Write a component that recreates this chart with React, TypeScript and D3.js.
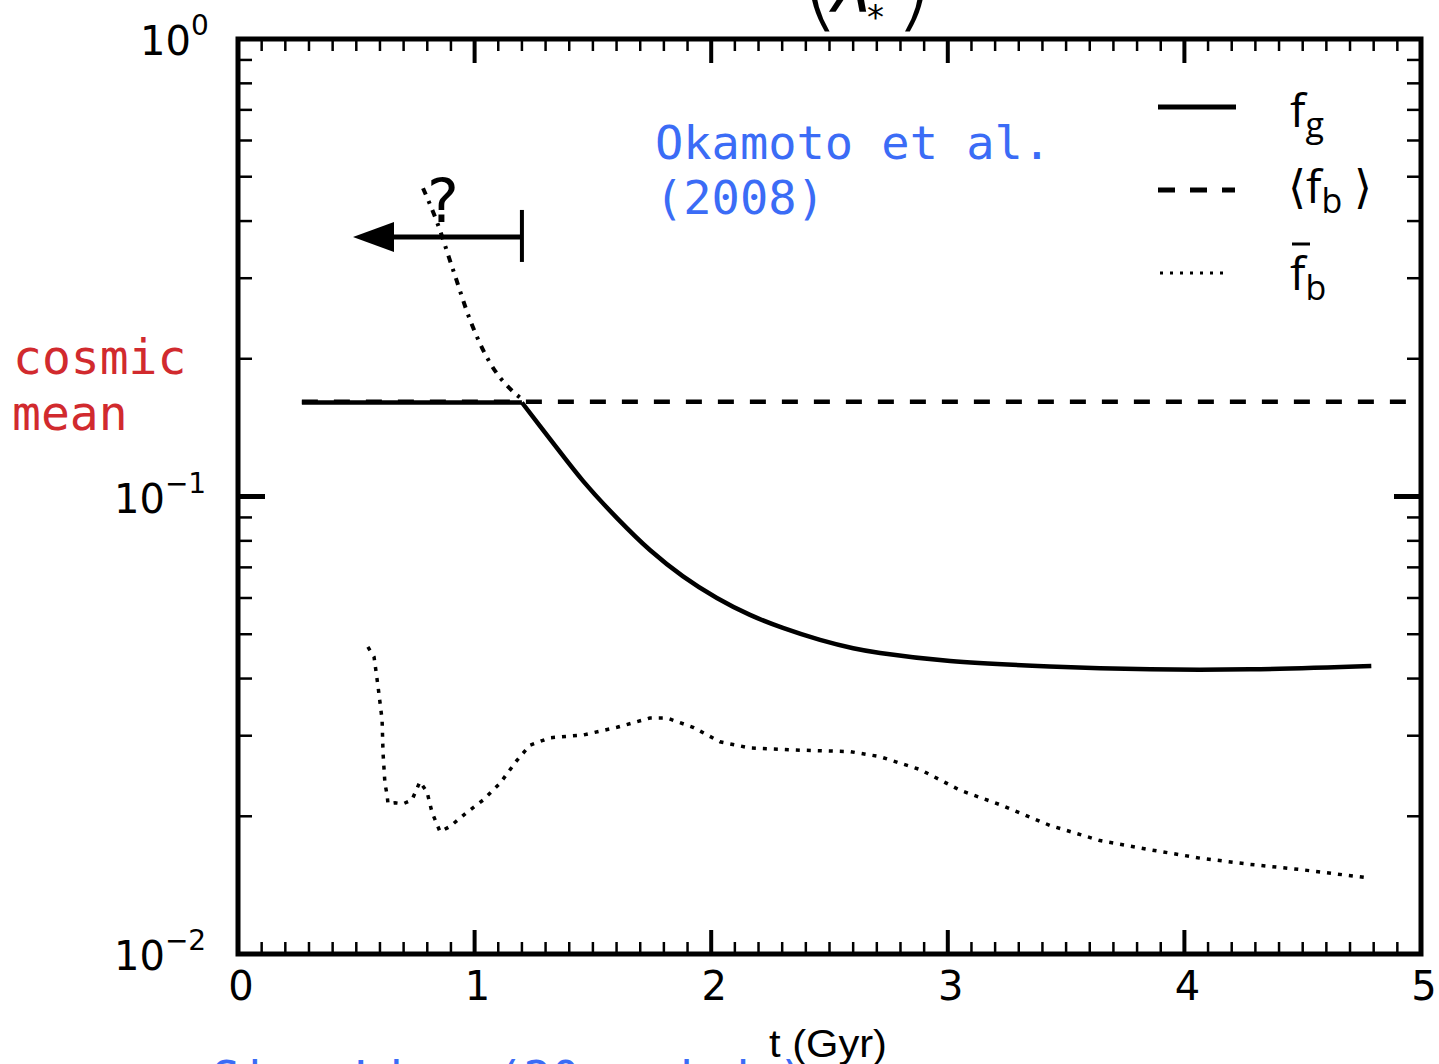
import React from "react";
import * as d3 from "d3";

// f_g : gas fraction (solid)
const fgFlatT = [0.27, 1.2];
const fgFlatV = [0.1605, 0.1605];
const fgT = [1.2, 1.319, 1.458, 1.602, 1.741, 1.881, 2.024, 2.164, 2.303, 2.46, 2.6, 2.714, 3.01, 3.43, 3.855, 4.277, 4.79];
const fgV = [0.1605, 0.1335, 0.1082, 0.0897, 0.0764, 0.0669, 0.06, 0.0551, 0.0516, 0.0486, 0.0466, 0.0455, 0.0437, 0.0425, 0.0419, 0.0419, 0.0426];

// <f_b> : cosmic mean (dashed)
const meanT = [0.27, 5];
const meanV = [0.1612, 0.1612];

// f_b bar, early branch (dotted, with "?")
const earlyT = [0.782, 0.841, 0.909, 0.981, 1.065, 1.155, 1.205];
const earlyV = [0.472, 0.398, 0.313, 0.243, 0.196, 0.171, 0.1627];

// f_b bar, Okamoto et al. (dotted)
const lowT = [0.549, 0.575, 0.592, 0.609, 0.613, 0.621, 0.63, 0.634, 0.664, 0.698, 0.735, 0.769, 0.799, 0.82, 0.854, 0.896, 0.968, 1.036, 1.107, 1.179, 1.234, 1.319, 1.458, 1.602, 1.741, 1.813, 1.923, 2.037, 2.164, 2.375, 2.587, 2.713, 2.883, 3.052, 3.221, 3.432, 3.643, 3.855, 4.066, 4.277, 4.489, 4.763];
const lowV = [0.0469, 0.0446, 0.0384, 0.0325, 0.0275, 0.0236, 0.0223, 0.0213, 0.0214, 0.0213, 0.0217, 0.0238, 0.0226, 0.0204, 0.0185, 0.019, 0.0204, 0.0217, 0.0236, 0.0265, 0.0286, 0.0297, 0.0301, 0.0313, 0.0328, 0.0328, 0.0313, 0.0291, 0.0282, 0.0279, 0.0277, 0.027, 0.0253, 0.0228, 0.0212, 0.0191, 0.0177, 0.0169, 0.0162, 0.0157, 0.0153, 0.0147];

// arrow annotation (data units)
const arrowT = [0.486, 1.2];
const arrowV = 0.369;
const arrowBarV = [0.423, 0.3256];

const xTickLabels = ["0", "1", "2", "3", "4", "5"];
const yMajor = [1, 0.1, 0.01];
const yExp = ["0", "\u22121", "\u22122"];

const W = 1439;
const H = 1064;
const L = 238, R = 1421, T = 39, B = 954;

const blue = "#3b6cf6";
const red = "#d12a2e";
const mono = "'DejaVu Sans Mono', monospace";
const sans = "'DejaVu Sans', sans-serif";

export default function App() {
  const x = d3.scaleLinear().domain([0, 5]).range([L, R]);
  const y = d3.scaleLog().domain([0.01, 1]).range([B, T]);

  const pts = (ts: number[], vs: number[]) => ts.map((t, i) => [t, vs[i]] as [number, number]);
  const lin = d3.line<[number, number]>().x((d) => x(d[0])).y((d) => y(d[1]));
  const smooth = d3.line<[number, number]>().x((d) => x(d[0])).y((d) => y(d[1])).curve(d3.curveCatmullRom.alpha(0.5));
  const mono_ = d3.line<[number, number]>().x((d) => x(d[0])).y((d) => y(d[1])).curve(d3.curveMonotoneX);

  const xMinor = d3.range(0, 50).map((i) => i / 10).filter((v) => Math.abs(v - Math.round(v)) > 1e-6);
  const xMaj = d3.range(1, 5);
  const yMinor: number[] = [];
  [0.01, 0.1].forEach((d) => d3.range(2, 10).forEach((k) => yMinor.push(d * k)));

  const ay = y(arrowV);
  const ax0 = x(arrowT[0]);
  const ax1 = x(arrowT[1]);

  return (
    <svg width={W} height={H} style={{ position: "absolute", left: 0, top: 0, background: "#fff" }}>
      {/* cut-off title */}
      <g fontFamily={sans}>
        <text x={798} y={17} fontSize={110} fontWeight={300}>(</text>
        <text x={832} y={12} fontSize={70} fontStyle="italic">λ</text>
        <text x={867} y={29} fontSize={34}>*</text>
        <text x={893} y={17} fontSize={110} fontWeight={300}>)</text>
      </g>

      {/* ticks */}
      <g stroke="#000">
        {xMinor.map((v) => (
          <g key={"xm" + v} strokeWidth={2.5}>
            <line x1={x(v)} x2={x(v)} y1={B} y2={B - 12} />
            <line x1={x(v)} x2={x(v)} y1={T} y2={T + 12} />
          </g>
        ))}
        {xMaj.map((v) => (
          <g key={"xM" + v} strokeWidth={4}>
            <line x1={x(v)} x2={x(v)} y1={B} y2={B - 24} />
            <line x1={x(v)} x2={x(v)} y1={T} y2={T + 24} />
          </g>
        ))}
        {yMinor.map((v) => (
          <g key={"ym" + v} strokeWidth={2.5}>
            <line x1={L} x2={L + 14} y1={y(v)} y2={y(v)} />
            <line x1={R} x2={R - 14} y1={y(v)} y2={y(v)} />
          </g>
        ))}
        <line x1={L} x2={L + 27} y1={y(0.1)} y2={y(0.1)} strokeWidth={5} />
        <line x1={R} x2={R - 27} y1={y(0.1)} y2={y(0.1)} strokeWidth={5} />
      </g>

      {/* frame */}
      <rect x={L} y={T} width={R - L} height={B - T} fill="none" stroke="#000" strokeWidth={5} />

      {/* tick labels */}
      <g fontFamily={sans} fontSize={40} fill="#000">
        {xTickLabels.map((s, i) => (
          <text key={s} x={x(i) + 3} y={1000} textAnchor="middle">{s}</text>
        ))}
        {yMajor.map((v, i) => (
          <text key={v} x={i === 0 ? 140 : 114} y={y(v) + 16}>
            10<tspan fontSize={28} dy={-20}>{yExp[i]}</tspan>
          </text>
        ))}
      </g>
      <text x={212} y={1094} fontFamily={mono} fontSize={47} fill={blue}>
        Simu   Line  (20    and    d     )
      </text>
      <text x={828} y={1057} textAnchor="middle" fontFamily="'Liberation Sans Narrow', 'Liberation Sans', sans-serif" fontSize={38} textLength={118} lengthAdjust="spacingAndGlyphs">
        t (Gyr)
      </text>

      {/* data */}
      <path d={lin(pts(fgFlatT, fgFlatV)) || ""} fill="none" stroke="#000" strokeWidth={4.5} />
      <path d={smooth(pts(fgT, fgV)) || ""} fill="none" stroke="#000" strokeWidth={4.5} />
      <path d={lin(pts(meanT, meanV)) || ""} fill="none" stroke="#000" strokeWidth={4.5} strokeDasharray="16 16" />
      <path d={mono_(pts(earlyT, earlyV)) || ""} fill="none" stroke="#000" strokeWidth={4} strokeDasharray="7 7 3 7" />
      <path d={lin(pts(lowT, lowV)) || ""} fill="none" stroke="#000" strokeWidth={3.5} strokeDasharray="4 7" />

      {/* arrow annotation */}
      <line x1={ax0 + 38} x2={ax1} y1={ay} y2={ay} stroke="#000" strokeWidth={5} />
      <path d={`M${ax0},${ay} L${ax0 + 41},${ay - 15} L${ax0 + 41},${ay + 15} Z`} fill="#000" />
      <line x1={ax1} x2={ax1} y1={y(arrowBarV[0])} y2={y(arrowBarV[1])} stroke="#000" strokeWidth={4} />
      <text x={427} y={222} fontFamily={sans} fontSize={60}>?</text>

      {/* annotations */}
      <g fontFamily={mono} fontSize={47} fill={blue}>
        <text x={655} y={159}>Okamoto et al.</text>
        <text x={655} y={214}>(2008)</text>
      </g>
      <g fontFamily={mono} fontSize={48} fill={red}>
        <text x={13} y={374}>cosmic</text>
        <text x={12} y={430}>mean</text>
      </g>

      {/* legend */}
      <g fontFamily="'Open Sans', sans-serif" fill="#000">
        <line x1={1158} x2={1236} y1={107} y2={107} stroke="#000" strokeWidth={5} />
        <text x={1290} y={127} fontSize={46}>
          f<tspan fontSize={34} dy={10}>g</tspan>
        </text>
        <line x1={1158} x2={1235} y1={190} y2={190} stroke="#000" strokeWidth={5} strokeDasharray="17 15" />
        <text x={1288} y={203} fontSize={46}>
          ⟨f<tspan fontSize={34} dy={10}>b</tspan>
          <tspan dy={-10}> ⟩</tspan>
        </text>
        <line x1={1160} x2={1228} y1={273} y2={273} stroke="#000" strokeWidth={3} strokeDasharray="3 7" />
        <line x1={1292} x2={1310} y1={244} y2={244} stroke="#000" strokeWidth={3} />
        <text x={1290} y={290} fontSize={46}>
          f<tspan fontSize={34} dy={10}>b</tspan>
        </text>
      </g>
    </svg>
  );
}
